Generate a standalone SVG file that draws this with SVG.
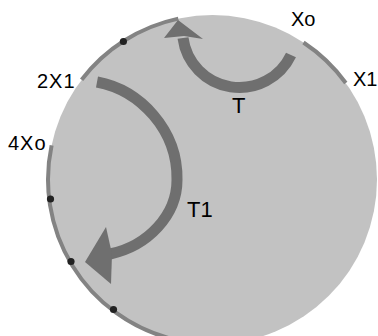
<svg xmlns="http://www.w3.org/2000/svg" width="378" height="336" viewBox="0 0 378 336">
  <style>
    .edge { fill: none; stroke: #838383; stroke-width: 4; }
    .dot { fill: #222; }
    .shaft { fill: none; stroke: #6f6f6f; stroke-width: 11; }
    .head { fill: #6f6f6f; }
    .lbl { font-family: "Liberation Sans", Arial, sans-serif; font-size: 20px; fill: #000; }
    .big { font-size: 22px; }
  </style>
  <rect width="378" height="336" fill="#ffffff"/>
  <g id="disc">
    <circle cx="212.5" cy="179.5" r="164.5" fill="#c2c2c2"/>
  </g>
  <g id="boundary">
    <path class="edge" d="M81.6,79.8 A164.5,164.5 0 0 1 178.3,18.6"/>
    <path class="edge" d="M303.5,42.5 A164.5,164.5 0 0 1 345.8,83"/>
    <path class="edge" d="M51.6,145.3 A164.5,164.5 0 0 0 169.9,338.4"/>
    <circle class="dot" cx="123.4" cy="41.5" r="3.6"/>
    <circle class="dot" cx="50.5" cy="199" r="3.6"/>
    <circle class="dot" cx="71" cy="261.5" r="3.6"/>
    <circle class="dot" cx="113.5" cy="309.5" r="3.6"/>
  </g>
  <g id="connectors">
    <g id="arrow-T">
      <path class="shaft" d="M291,55 A57,57 0 0 1 183,38"/>
      <polygon class="head" points="164,38 178,20 203,39 184,36"/>
    </g>
    <g id="arrow-T1">
      <path class="shaft" d="M97,82 C140,90 178,130 177,180 C177,215 148,246 110,254"/>
      <polygon class="head" points="85,262 106,227 112,254 111,284"/>
    </g>
  </g>
  <g id="labels">
    <text class="lbl" x="37" y="88" letter-spacing="1">2X1</text>
    <text class="lbl" x="8" y="150" letter-spacing="1">4Xo</text>
    <text class="lbl" x="291" y="26">Xo</text>
    <text class="lbl" x="353" y="86">X1</text>
    <text class="lbl big" x="232" y="113">T</text>
    <text class="lbl big" x="187" y="217">T1</text>
  </g>
</svg>
